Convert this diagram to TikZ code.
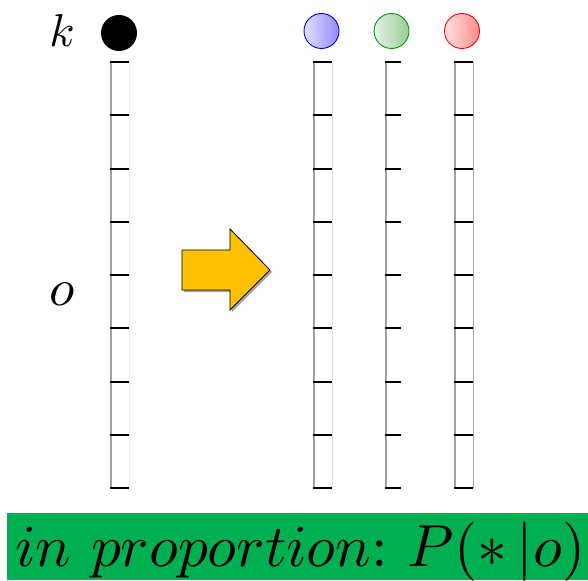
\documentclass[tikz,border=0pt]{standalone}
\usepackage{graphicx}
\definecolor{bannergreen}{HTML}{00B050}
\definecolor{arrowgold}{HTML}{FFC000}
\begin{document}
\begin{tikzpicture}[x=1pt,y=-1pt,
  tick/.style={line width=2pt,black},
  spine/.style={line width=2.6pt,gray!75},
  ball/.style={circle,minimum size=35pt,inner sep=0pt,line width=0.9pt},
  lbl/.style={inner sep=0pt}]
\useasboundingbox (0,0) rectangle (588,580);
% labels
\node[lbl] (k) at (62,31) {\scalebox{4.6}{$k$}};
\node[lbl] (o) at (62,294) {\scalebox{5.2}{$o$}};
% circles
\node[ball,fill=black,minimum size=36pt] (cb) at (119,33) {};
\node[ball,draw=blue!85!black,left color=blue!12,right color=blue!45] (c1) at (321.5,31) {};
\node[ball,draw=green!60!black,left color=green!50!black!10,right color=green!50!black!40] (c2) at (391.5,31) {};
\node[ball,draw=red,left color=red!12,right color=red!45] (c3) at (462,31) {};
% columns
\foreach \xl/\xr/\edge in {111/129/gray!15,314/332/gray!25,386/401/none,455/473/gray!65}{
  \draw[line width=1pt,draw=\edge] (\xr,62) -- (\xr,488);
  \draw[spine] (\xl,61) -- (\xl,489);
  \foreach \i in {0,...,8}{
    \draw[tick] (\xl-1,62+53.25*\i) -- (\xr,62+53.25*\i);
  }
}
% arrow
\path[fill=gray!70] (184,252) -- (232,252) -- (232,231) -- (272,272) -- (232,312) -- (232,292) -- (184,292) -- cycle;
\draw[fill=arrowgold,draw=black,line width=0.8pt] (182,250) -- (230,250) -- (230,229) -- (270,270) -- (230,310) -- (230,290) -- (182,290) -- cycle;
% banner
\fill[bannergreen] (7,513) rectangle (588,580);
\node[anchor=base west,inner sep=0pt] (t) at (15,566) {\resizebox{570pt}{!}{$in\ proportion\mathbf{:}\ P(\ast\,|o)$}};
\end{tikzpicture}
\end{document}
